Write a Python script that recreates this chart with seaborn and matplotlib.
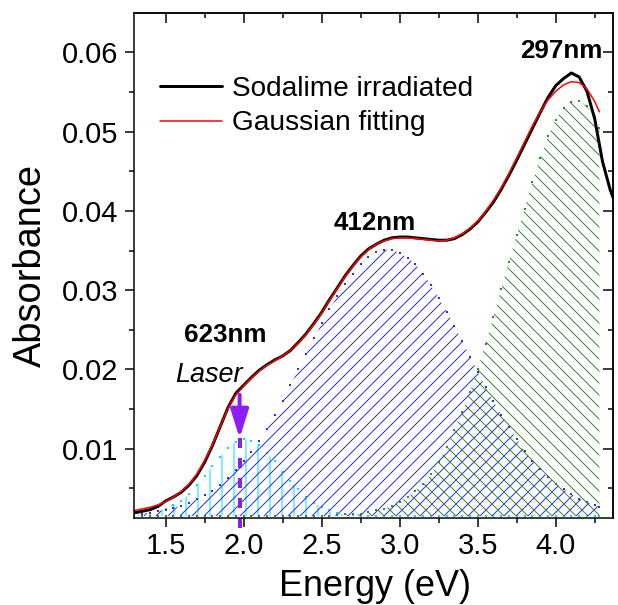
"""Absorbance spectrum of irradiated sodalime glass with Gaussian deconvolution."""

import matplotlib

matplotlib.use("Agg")

import matplotlib.pyplot as plt
from matplotlib.ticker import FormatStrFormatter, MultipleLocator
import seaborn as sns


DPI = 72
BASELINE = 0.0015

# measured spectrum (eV, absorbance)
energy_data = [
    1.30, 1.35, 1.40, 1.45, 1.50, 1.55, 1.60, 1.65, 1.70, 1.75,
    1.80, 1.85, 1.90, 1.95, 2.00, 2.05, 2.10, 2.15, 2.20, 2.25,
    2.30, 2.35, 2.40, 2.45, 2.50, 2.55, 2.60, 2.65, 2.70, 2.75,
    2.80, 2.85, 2.90, 2.95, 3.00, 3.05, 3.10, 3.15, 3.20, 3.25,
    3.30, 3.35, 3.40, 3.45, 3.50, 3.55, 3.60, 3.65, 3.70, 3.75,
    3.80, 3.85, 3.90, 3.95, 4.00, 4.05, 4.10, 4.15, 4.20, 4.25,
    4.30, 4.35, 4.40,
]
absorbance = [
    0.0019, 0.0021, 0.0023, 0.0027, 0.0034, 0.0039, 0.0045, 0.0054, 0.0066, 0.0083,
    0.0104, 0.0128, 0.0152, 0.0170, 0.0180, 0.0190, 0.0199, 0.0206, 0.0212, 0.0217,
    0.0224, 0.0234, 0.0245, 0.0258, 0.0272, 0.0288, 0.0303, 0.0318, 0.0331, 0.0343,
    0.0352, 0.0358, 0.0363, 0.0366, 0.0367, 0.0367, 0.0366, 0.0365, 0.0364, 0.0363,
    0.0363, 0.0365, 0.0370, 0.0377, 0.0386, 0.0398, 0.0411, 0.0427, 0.0445, 0.0464,
    0.0484, 0.0504, 0.0524, 0.0543, 0.0558, 0.0567, 0.0574, 0.0569, 0.0551, 0.0516,
    0.0462, 0.0426, 0.0400,
]

# fit and its three gaussian components
energy_fit = [
    1.30, 1.35, 1.40, 1.45, 1.50, 1.55, 1.60, 1.65, 1.70, 1.75,
    1.80, 1.85, 1.90, 1.95, 2.00, 2.05, 2.10, 2.15, 2.20, 2.25,
    2.30, 2.35, 2.40, 2.45, 2.50, 2.55, 2.60, 2.65, 2.70, 2.75,
    2.80, 2.85, 2.90, 2.95, 3.00, 3.05, 3.10, 3.15, 3.20, 3.25,
    3.30, 3.35, 3.40, 3.45, 3.50, 3.55, 3.60, 3.65, 3.70, 3.75,
    3.80, 3.85, 3.90, 3.95, 4.00, 4.05, 4.10, 4.15, 4.20, 4.25,
    4.28,
]
fit_total = [
    0.0022, 0.0024, 0.0026, 0.0029, 0.0033, 0.0039, 0.0046, 0.0055, 0.0068, 0.0085,
    0.0105, 0.0128, 0.0151, 0.0168, 0.0179, 0.0189, 0.0198, 0.0205, 0.0211, 0.0217,
    0.0224, 0.0233, 0.0244, 0.0257, 0.0271, 0.0287, 0.0302, 0.0317, 0.0330, 0.0342,
    0.0351, 0.0358, 0.0362, 0.0365, 0.0366, 0.0366, 0.0365, 0.0364, 0.0363, 0.0362,
    0.0363, 0.0366, 0.0371, 0.0378, 0.0387, 0.0399, 0.0413, 0.0429, 0.0447, 0.0467,
    0.0487, 0.0507, 0.0525, 0.0540, 0.0551, 0.0559, 0.0563, 0.0562, 0.0554, 0.0538,
    0.0525,
]
peak_623 = [
    0.0016, 0.0017, 0.0019, 0.0021, 0.0024, 0.0029, 0.0034, 0.0043, 0.0054, 0.0066,
    0.0078, 0.0090, 0.0101, 0.0109, 0.0112, 0.0110, 0.0104, 0.0095, 0.0084, 0.0071,
    0.0059, 0.0049, 0.0039, 0.0032, 0.0026, 0.0022, 0.0019, 0.0017, 0.0016, 0.0015,
    0.0015, 0.0015, 0.0015, 0.0015, 0.0015, 0.0015, 0.0015, 0.0015, 0.0015, 0.0015,
    0.0015, 0.0015, 0.0015, 0.0015, 0.0015, 0.0015, 0.0015, 0.0015, 0.0015, 0.0015,
    0.0015, 0.0015, 0.0015, 0.0015, 0.0015, 0.0015, 0.0015, 0.0015, 0.0015, 0.0015,
    0.0015,
]
peak_412 = [
    0.0017, 0.0018, 0.0019, 0.0021, 0.0023, 0.0025, 0.0028, 0.0031, 0.0036, 0.0041,
    0.0047, 0.0054, 0.0063, 0.0073, 0.0084, 0.0096, 0.0110, 0.0125, 0.0142, 0.0160,
    0.0180, 0.0200, 0.0219, 0.0239, 0.0258, 0.0276, 0.0292, 0.0308, 0.0321, 0.0333,
    0.0342, 0.0348, 0.0351, 0.0351, 0.0347, 0.0341, 0.0333, 0.0321, 0.0306, 0.0290,
    0.0273, 0.0255, 0.0236, 0.0216, 0.0197, 0.0178, 0.0160, 0.0143, 0.0127, 0.0112,
    0.0097, 0.0085, 0.0074, 0.0064, 0.0056, 0.0049, 0.0043, 0.0037, 0.0033, 0.0029,
    0.0027,
]
peak_297 = [
    0.0015, 0.0015, 0.0015, 0.0015, 0.0015, 0.0015, 0.0015, 0.0015, 0.0015, 0.0015,
    0.0015, 0.0015, 0.0015, 0.0015, 0.0015, 0.0015, 0.0015, 0.0015, 0.0015, 0.0015,
    0.0015, 0.0015, 0.0015, 0.0015, 0.0015, 0.0015, 0.0016, 0.0017, 0.0017, 0.0018,
    0.0020, 0.0022, 0.0024, 0.0028, 0.0033, 0.0039, 0.0047, 0.0056, 0.0068, 0.0083,
    0.0102, 0.0123, 0.0146, 0.0172, 0.0200, 0.0232, 0.0266, 0.0301, 0.0336, 0.0370,
    0.0403, 0.0436, 0.0467, 0.0494, 0.0515, 0.0530, 0.0538, 0.0539, 0.0532, 0.0518,
    0.0505,
]

peak_labels = ["623nm", "412nm", "297nm"]
peak_label_x = [1.885, 2.84, 4.035]
peak_label_y = [0.0235, 0.03765, 0.05926]

laser_energy = 1.974

CYAN = "#00e1ff"
BLUE = "#2f2fe0"
GREEN = "#2e8b2e"
PURPLE = "#8c1ef5"


def _set_style() -> None:
    sns.set_style("ticks")
    plt.rcParams["font.family"] = ["Liberation Sans", "DejaVu Sans"]
    plt.rcParams.update(
        {
            "hatch.linewidth": 1.0,
            "axes.linewidth": 1.5,
            "axes.edgecolor": "black",
            "axes.labelcolor": "black",
            "text.color": "black",
            "xtick.color": "black",
            "ytick.color": "black",
        }
    )


def _component(ax, values, color, hatch) -> None:
    ax.fill_between(
        energy_fit, BASELINE, values,
        facecolor="none", edgecolor=color, hatch=hatch, linewidth=0,
    )
    sns.scatterplot(
        x=energy_fit, y=values, color=color, marker="s", s=6,
        linewidth=0, legend=False, ax=ax,
    )


def main() -> None:
    _set_style()
    fig = plt.figure(figsize=(618 / DPI, 605 / DPI), dpi=DPI)
    ax = fig.add_axes([0.2168, 0.1438, 0.7751, 0.8347])

    _component(ax, peak_623, CYAN, "|")
    _component(ax, peak_412, BLUE, "//")
    _component(ax, peak_297, GREEN, "\\\\")

    sns.lineplot(x=energy_data, y=absorbance, color="black", linewidth=3,
                 sort=False, estimator=None, label="Sodalime irradiated", ax=ax)
    sns.lineplot(x=energy_fit, y=fit_total, color="red", linewidth=1.5,
                 sort=False, estimator=None, label="Gaussian fitting", ax=ax)

    # laser line at 630 nm
    ax.plot([laser_energy, laser_energy], [0.0113, -0.0006], color=PURPLE,
            linewidth=4, linestyle=(0, (2.5, 2.5)), clip_on=False)
    ax.annotate(
        "", xy=(laser_energy, 0.0113), xytext=(laser_energy, 0.0168),
        arrowprops=dict(arrowstyle="-|>,head_length=0.8,head_width=0.25",
                        color=PURPLE, lw=4, mutation_scale=30,
                        shrinkA=0, shrinkB=0),
    )

    for text, x, y in zip(peak_labels, peak_label_x, peak_label_y):
        ax.text(x, y, text, ha="center", va="baseline", fontsize=26,
                fontweight="bold")
    ax.text(1.776, 0.01844, "Laser", ha="center", va="baseline",
            fontsize=27, fontstyle="italic")

    ax.set_xlim(1.297, 4.367)
    ax.set_ylim(0.00125, 0.06497)
    ax.xaxis.set_major_locator(MultipleLocator(0.5))
    ax.xaxis.set_minor_locator(MultipleLocator(0.25))
    ax.yaxis.set_major_locator(MultipleLocator(0.01))
    ax.yaxis.set_minor_locator(MultipleLocator(0.005))
    ax.xaxis.set_major_formatter(FormatStrFormatter("%.1f"))
    ax.yaxis.set_major_formatter(FormatStrFormatter("%.2f"))
    ax.tick_params(which="major", direction="out", length=9, width=1.5,
                   labelsize=29, pad=5)
    ax.tick_params(axis="y", which="major", pad=7)
    ax.tick_params(which="minor", direction="out", length=5, width=1.5)

    for side in ("top", "right"):
        ax.spines[side].set_visible(True)
    top = ax.secondary_xaxis("top")
    top.xaxis.set_major_locator(MultipleLocator(0.5))
    top.xaxis.set_minor_locator(MultipleLocator(0.25))
    top.tick_params(which="both", direction="in", width=1.5, labeltop=False)
    top.tick_params(which="major", length=10)
    top.tick_params(which="minor", length=5)
    right = ax.secondary_yaxis("right")
    right.yaxis.set_major_locator(MultipleLocator(0.01))
    right.yaxis.set_minor_locator(MultipleLocator(0.005))
    right.tick_params(which="both", direction="in", width=1.5, labelright=False)
    right.tick_params(which="major", length=10)
    right.tick_params(which="minor", length=5)

    ax.set_xlabel("Energy (eV)", fontsize=36)
    ax.set_ylabel("Absorbance", fontsize=38)
    ax.xaxis.set_label_coords(0.503, -0.100)
    ax.yaxis.set_label_coords(-0.177, 0.5)

    ax.legend(loc="upper left", bbox_to_anchor=(0.055, 0.876), frameon=False,
              fontsize=28, handlelength=2.2, handletextpad=0.35,
              labelspacing=0.31, borderpad=0, borderaxespad=0)

    fig.savefig("out.png", dpi=DPI)
    plt.close(fig)


if __name__ == "__main__":
    main()
